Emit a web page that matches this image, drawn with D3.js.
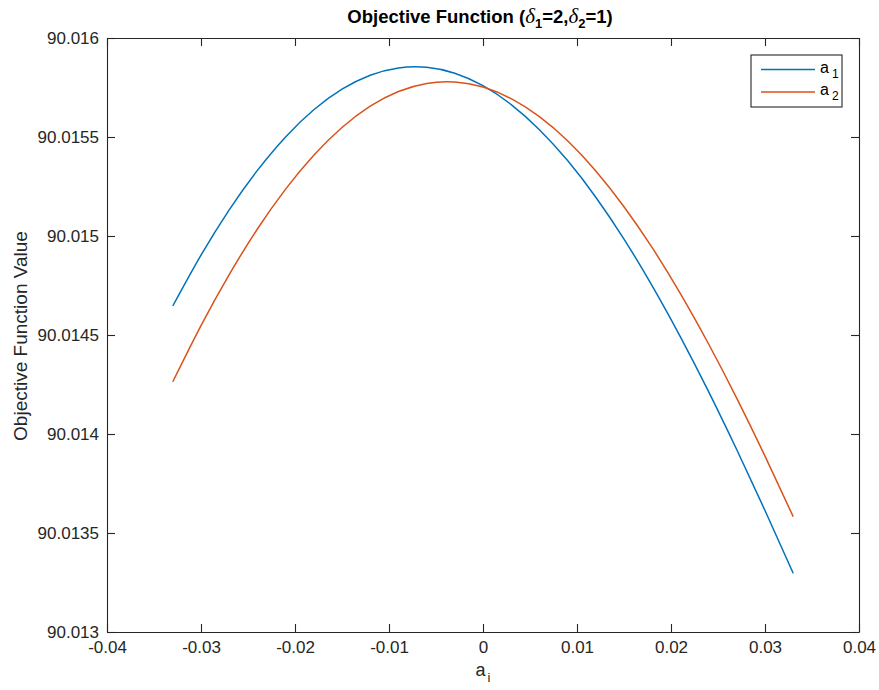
<!DOCTYPE html>
<html>
<head>
<meta charset="utf-8">
<script src="https://cdn.jsdelivr.net/npm/d3@7/dist/d3.min.js"></script>
<style>
  html, body { margin: 0; padding: 0; background: #ffffff; }
  svg { display: block; font-family: "Liberation Sans", Arial, Helvetica, sans-serif; }
</style>
</head>
<body>
<svg id="chart" width="879" height="690"></svg>
<script>
// Sample positions of the coefficient a_i
const aValues = [-0.033, -0.030, -0.027, -0.024, -0.021, -0.018, -0.015, -0.012, -0.009, -0.006, -0.003,
                 0.000, 0.003, 0.006, 0.009, 0.012, 0.015, 0.018, 0.021, 0.024, 0.027, 0.030, 0.033];

// Objective function value when varying a_1
const seriesA1 = [90.0146465, 90.0149030, 90.0151323, 90.0153313, 90.0155005, 90.0156374, 90.0157414,
                  90.0158121, 90.0158490, 90.0158525, 90.0158222, 90.0157591, 90.0156636, 90.0155369,
                  90.0153808, 90.0151960, 90.0149843, 90.0147485, 90.0144909, 90.0142141, 90.0139202,
                  90.0136136, 90.0132970];

// Objective function value when varying a_2
const seriesA2 = [90.0142641, 90.0145475, 90.0148051, 90.0150354, 90.0152369, 90.0154081, 90.0155480,
                  90.0156556, 90.0157298, 90.0157707, 90.0157780, 90.0157522, 90.0156934, 90.0156025,
                  90.0154808, 90.0153288, 90.0151480, 90.0149409, 90.0147091, 90.0144545, 90.0141803,
                  90.0138884, 90.0135828];

const seriesNames = ["1", "2"];

const xTicks = [-0.04, -0.03, -0.02, -0.01, 0, 0.01, 0.02, 0.03, 0.04];
const xTickLabels = ["-0.04", "-0.03", "-0.02", "-0.01", "0", "0.01", "0.02", "0.03", "0.04"];
const yTicks = [90.013, 90.0135, 90.014, 90.0145, 90.015, 90.0155, 90.016];
const yTickLabels = ["90.013", "90.0135", "90.014", "90.0145", "90.015", "90.0155", "90.016"];

const colors = ["#0072BD", "#D95319"];
const axisColor = "#262626";

const margin = { left: 107, top: 38 };
const plotW = 859 - margin.left;
const plotH = 632 - margin.top;

const svg = d3.select("#chart");
const g = svg.append("g").attr("transform", `translate(${margin.left},${margin.top})`);

const x = d3.scaleLinear().domain([-0.04, 0.04]).range([0, plotW]);
const y = d3.scaleLinear().domain([90.013, 90.016]).range([plotH, 0]);

// Curves
const line = d3.line()
  .x(d => x(d[0]))
  .y(d => y(d[1]))
  .curve(d3.curveNatural);

[seriesA1, seriesA2].forEach((vals, i) => {
  g.append("path")
    .datum(aValues.map((a, k) => [a, vals[k]]))
    .attr("fill", "none")
    .attr("stroke", colors[i])
    .attr("stroke-width", 1.5)
    .attr("d", line);
});

// Axes with inward ticks on all four sides
const tickLen = 8;
const fmtX = (d, i) => xTickLabels[i];
const fmtY = (d, i) => yTickLabels[i];

function styleAxis(sel) {
  sel.selectAll("path.domain").attr("stroke", axisColor).attr("stroke-width", 1.1);
  sel.selectAll(".tick line").attr("stroke", axisColor).attr("stroke-width", 1.1);
  sel.selectAll(".tick text")
    .attr("fill", axisColor)
    .style("font-size", "17px")
    .style("font-family", "'Liberation Sans', Arial, sans-serif");
}

g.append("g")
  .attr("transform", `translate(0,${plotH})`)
  .call(d3.axisBottom(x).tickValues(xTicks).tickFormat(fmtX).tickSizeInner(-tickLen).tickSizeOuter(0).tickPadding(9))
  .call(styleAxis);

g.append("g")
  .call(d3.axisTop(x).tickValues(xTicks).tickFormat("").tickSizeInner(-tickLen).tickSizeOuter(0))
  .call(styleAxis);

g.append("g")
  .call(d3.axisLeft(y).tickValues(yTicks).tickFormat(fmtY).tickSizeInner(-tickLen).tickSizeOuter(0).tickPadding(8))
  .call(styleAxis);

g.append("g")
  .attr("transform", `translate(${plotW},0)`)
  .call(d3.axisRight(y).tickValues(yTicks).tickFormat("").tickSizeInner(-tickLen).tickSizeOuter(0))
  .call(styleAxis);

// Title
const title = svg.append("text")
  .attr("x", 480)
  .attr("y", 23)
  .attr("text-anchor", "middle")
  .attr("fill", "#000")
  .style("font-size", "18.5px")
  .style("font-weight", "bold");
title.append("tspan").text("Objective Function (");
title.append("tspan").text("δ").style("font-style", "italic").style("font-weight", "normal")
  .style("font-family", "'Liberation Serif', 'DejaVu Serif', serif").style("font-size", "21px");
title.append("tspan").text("1").attr("dy", 5).style("font-size", "13px");
title.append("tspan").text("=2,").attr("dy", -5);
title.append("tspan").text("δ").style("font-style", "italic").style("font-weight", "normal")
  .style("font-family", "'Liberation Serif', 'DejaVu Serif', serif").style("font-size", "21px");
title.append("tspan").text("2").attr("dy", 5).style("font-size", "13px");
title.append("tspan").text("=1)").attr("dy", -5);

// Axis labels
const xl = svg.append("text")
  .attr("x", margin.left + plotW / 2)
  .attr("y", 676)
  .attr("text-anchor", "middle")
  .attr("fill", axisColor)
  .style("font-size", "18px");
xl.append("tspan").text("a");
xl.append("tspan").text("i").attr("dx", 2).attr("dy", 6).style("font-size", "13px");

svg.append("text")
  .attr("transform", `translate(27,${margin.top + plotH / 2 + 1}) rotate(-90)`)
  .attr("text-anchor", "middle")
  .attr("fill", axisColor)
  .style("font-size", "19px")
  .text("Objective Function Value");

// Legend
const lg = svg.append("g").attr("transform", "translate(751,55)");
lg.append("rect")
  .attr("width", 91).attr("height", 52)
  .attr("fill", "#fff")
  .attr("stroke", axisColor)
  .attr("stroke-width", 1.1);
seriesNames.forEach((name, i) => {
  const cy = 14.5 + i * 22.5;
  lg.append("line")
    .attr("x1", 10).attr("x2", 64)
    .attr("y1", cy).attr("y2", cy)
    .attr("stroke", colors[i]).attr("stroke-width", 1.5);
  const t = lg.append("text")
    .attr("x", 69).attr("y", cy + 3)
    .attr("fill", "#000")
    .style("font-size", "16px");
  t.append("tspan").text("a");
  t.append("tspan").text(name).attr("dx", 3).attr("dy", 5).style("font-size", "12px");
});
</script>
</body>
</html>
